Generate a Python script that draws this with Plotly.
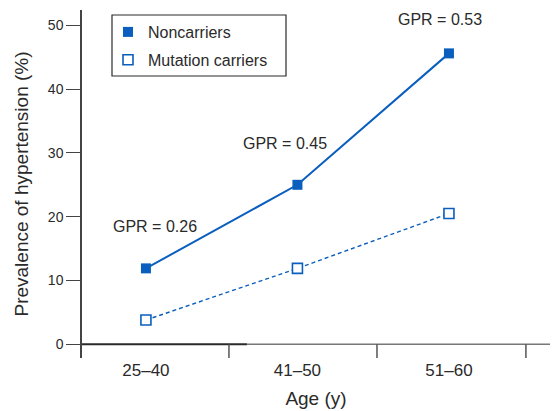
import plotly.graph_objects as go

# ---- data ----
age_groups = ["25–40", "41–50", "51–60"]
noncarriers = [11.9, 25.0, 45.6]
mutation_carriers = [3.8, 11.9, 20.5]
gpr_labels = ["GPR = 0.26", "GPR = 0.45", "GPR = 0.53"]
y_ticks = [0, 10, 20, 30, 40, 50]

BLUE = "#0A5EBE"
DARK = "#2a2a2a"
FONT = "Liberation Sans, Arial, Helvetica, sans-serif"

x_idx = list(range(len(age_groups)))
XMIN, XMAX = -0.422, 2.667
YMIN, YMAX = -2.15, 52.4

solid_marker = dict(symbol="square", size=10, color=BLUE, line=dict(width=0))
open_marker = dict(symbol="square", size=10, color="white", line=dict(width=1.6, color=BLUE))

fig = go.Figure()
fig.add_trace(go.Scatter(
    x=x_idx, y=noncarriers, name="Noncarriers", mode="lines+markers",
    line=dict(color=BLUE, width=2), marker=solid_marker, showlegend=False,
))
fig.add_trace(go.Scatter(
    x=x_idx, y=mutation_carriers, name="Mutation carriers", mode="lines+markers",
    line=dict(color=BLUE, width=1.4, dash="4px,3px"), marker=open_marker, showlegend=False,
))
# legend entries (markers only)
fig.add_trace(go.Scatter(x=[None], y=[None], name="Noncarriers", mode="markers",
                         marker=solid_marker, legendgroup="a"))
fig.add_trace(go.Scatter(x=[None], y=[None], name="Mutation carriers", mode="markers",
                         marker=open_marker, legendgroup="b"))

# GPR annotations relative to noncarrier points
offsets = [(9, 42), (-12, 41), (-9, 34)]
for i, (txt, (dx, dy)) in enumerate(zip(gpr_labels, offsets)):
    fig.add_annotation(x=x_idx[i], y=noncarriers[i], text=txt, showarrow=False,
                       xshift=dx, yshift=dy, font=dict(family=FONT, size=16, color=DARK))

shapes = []
split = (247 - 146) / 151.5
shapes.append(dict(type="line", xref="x", yref="y", x0=XMIN, x1=split, y0=0, y1=0,
                   line=dict(color=DARK, width=2)))
shapes.append(dict(type="line", xref="x", yref="y", x0=split, x1=XMAX, y0=0, y1=0,
                   line=dict(color="#777777", width=1.5)))
for b in [0.548, 1.525, 2.508]:
    shapes.append(dict(type="line", xref="x", yref="y", x0=b, x1=b, y0=YMIN, y1=0,
                       line=dict(color="#555555", width=1.5)))
shapes.append(dict(type="rect", xref="paper", yref="paper",
                   x0=(112 - 82) / 468, x1=(286 - 82) / 468,
                   y0=(358 - 76) / 348, y1=(358 - 15) / 348,
                   line=dict(color=DARK, width=1.2), fillcolor="rgba(0,0,0,0)"))

fig.update_layout(
    width=552, height=411,
    margin=dict(l=82, r=2, t=10, b=53),
    paper_bgcolor="white", plot_bgcolor="white",
    font=dict(family=FONT, color=DARK),
    shapes=shapes,
    showlegend=True,
    legend=dict(x=(108 - 82) / 468, y=(358 - 15) / 348, xanchor="left", yanchor="top",
                bgcolor="rgba(0,0,0,0)", borderwidth=0,
                font=dict(family=FONT, size=16, color=DARK),
                traceorder="grouped", tracegroupgap=4),
    xaxis=dict(range=[XMIN, XMAX], tickvals=x_idx, ticktext=age_groups,
               showgrid=False, zeroline=False, showline=False, ticks="",
               automargin=False,
               tickfont=dict(size=17, color=DARK),
               title=dict(text="Age (y)", font=dict(size=19, color=DARK), standoff=12)),
    yaxis=dict(range=[YMIN, YMAX], tickvals=y_ticks, showgrid=False, zeroline=False,
               showline=True, linecolor="#444444", linewidth=1.5,
               ticks="outside", ticklen=14, tickcolor="#444444", tickwidth=1.2,
               automargin=False,
               tickfont=dict(size=14, color=DARK),
               title=dict(text="Prevalence of hypertension (%)",
                          font=dict(size=19, color=DARK), standoff=14)),
)

fig.write_html("out.html", config={"displayModeBar": False},
               post_script="document.body.style.margin='0';document.body.style.padding='0';")
